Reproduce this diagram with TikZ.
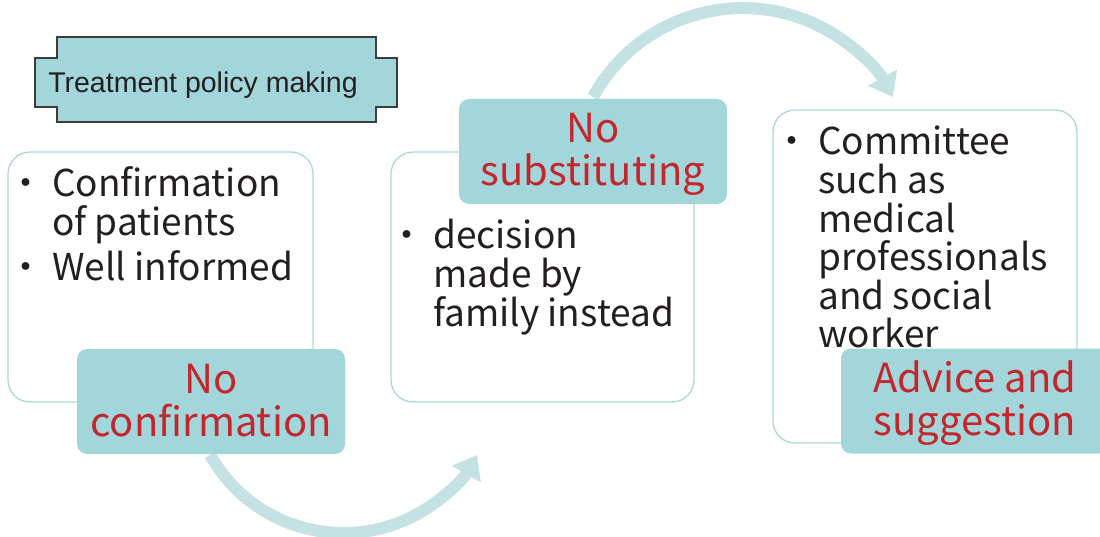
\documentclass[tikz,border=0pt]{standalone}
\usepackage{fontspec}
\setmainfont{Noto Sans CJK JP}
\newfontfamily\plaquefont{Liberation Sans}
\usetikzlibrary{arrows.meta}

\definecolor{tagfill}{HTML}{A3D6DB}
\definecolor{framec}{HTML}{A8D8DC}
\definecolor{arrowc}{HTML}{C4E2E4}
\definecolor{tagred}{HTML}{C1272D}
\definecolor{ink}{HTML}{231F20}
\definecolor{plaqueline}{HTML}{3C3C3C}

% bullet hung to the left of the first line of an item
\newcommand\dotmark{\llap{\makebox[53pt]{・}}}
% left-aligned lines at a fixed pitch; the baseline is that of the first line
\newcommand\itemlines[1]{\vtop{\baselineskip=38.6pt\lineskiplimit=-\maxdimen
  \lineskip=0pt\halign{##\hfil\cr#1\crcr}}}

\begin{document}
\begin{tikzpicture}[x=1pt,y=-1pt,
  frame/.style={draw=framec, line width=1.3pt, rounded corners=22pt,
    inner sep=0pt},
  tag/.style={fill=tagfill, rounded corners=10pt, text=tagred,
    font=\fontsize{40}{43}\selectfont, align=center,
    minimum width=268pt, minimum height=105pt, inner sep=0pt},
  body/.style={text=ink, font=\fontsize{37}{39}\selectfont,
    anchor=base west, inner sep=0pt},
  flow/.style={draw=arrowc, line width=12pt,
    -{Triangle[length=22pt,width=32pt]}}]

\clip (0,0) rectangle (1100,537);

% heading plaque
\draw[fill=tagfill, draw=plaqueline, line width=1.1pt]
  (57,37) -- (376,37) -- (376,58) -- (397,58) -- (397,107) -- (376,107)
  -- (376,122) -- (57,122) -- (57,107) -- (35,107) -- (35,58) -- (57,58)
  -- cycle;
\node[text=ink, font=\plaquefont\fontsize{28.5}{30}\selectfont, anchor=base,
  inner sep=0pt] (head) at (203,93) {Treatment policy making};

% outlined boxes
\node[frame, minimum width=305pt, minimum height=250pt] (f1) at (160.5,277) {};
\node[frame, minimum width=303pt, minimum height=250pt] (f2) at (542.5,277) {};
\node[frame, minimum width=304pt, minimum height=333pt] (f3) at (925,276.5) {};

% box contents
\node[body] (t1) at (52,197)
  {\itemlines{\dotmark Confirmation\cr of patients\cr
    \noalign{\vskip6pt}\dotmark Well informed}};
\node[body] (t2) at (433,249)
  {\itemlines{\dotmark decision\cr made by\cr family instead}};
\node[body] (t3) at (818,155)
  {\itemlines{\dotmark Committee\cr such as\cr medical\cr professionals\cr
    and social\cr worker}};

% curved arrows between the stages
\coordinate (s1) at (210.1,454.9);
\coordinate (s2) at (593,97);
\draw[flow] (s1) arc[start angle=150.7, end angle=29.3, radius=153];
\draw[flow] (s2) arc[start angle=208.7, end angle=331.3, radius=171];

% stage tags
\node[tag] (l1) at (211,401.5)
  {\rule{0pt}{36pt}No\\confirmation\rule[-10pt]{0pt}{10pt}};
\node[tag] (l2) at (593,151.5)
  {\rule{0pt}{36pt}No\\substituting\rule[-10pt]{0pt}{10pt}};
\node[tag] (l3) at (975,401)
  {\rule{0pt}{36pt}Advice and\\suggestion\rule[-10pt]{0pt}{10pt}};
\end{tikzpicture}
\end{document}
